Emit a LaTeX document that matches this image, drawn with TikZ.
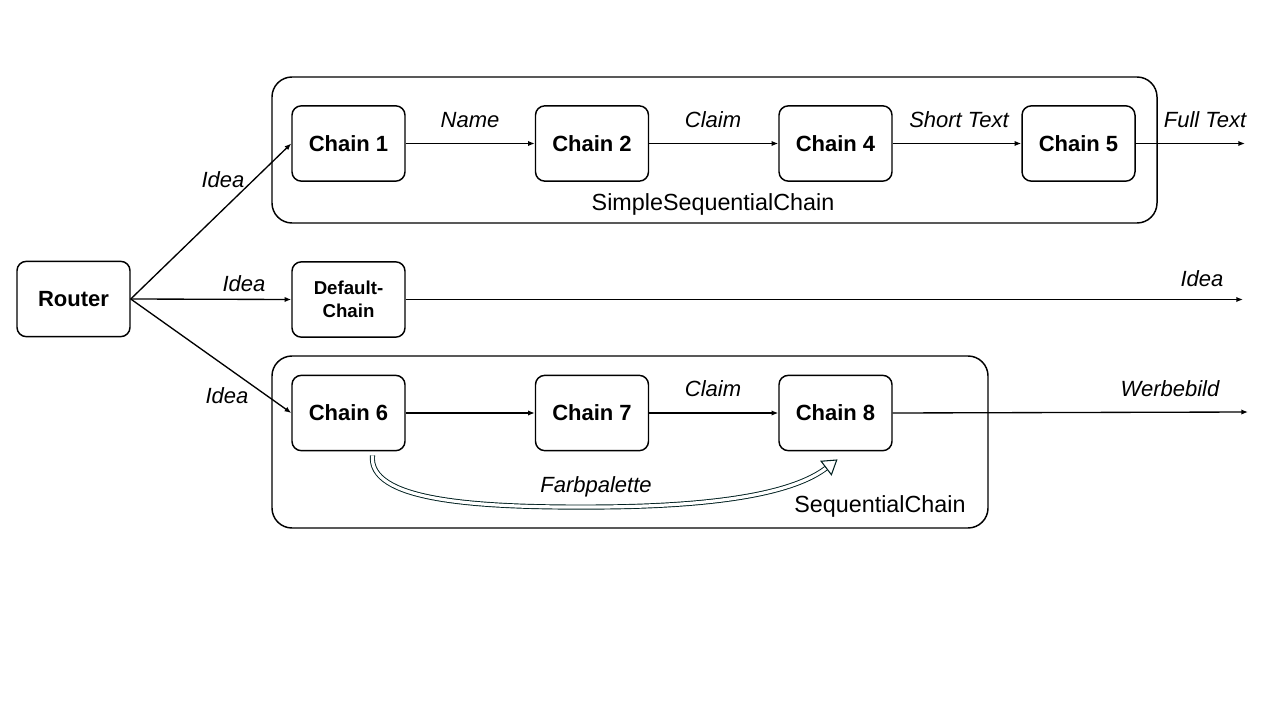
\documentclass[tikz,border=0pt]{standalone}
\usepackage{fontspec}
\setmainfont{Liberation Sans}
\usetikzlibrary{arrows.meta,positioning}
\begin{document}
\begin{tikzpicture}[x=0.75pt,y=-0.75pt,
  box/.style={draw,line width=1.1pt,rounded corners=7pt,minimum width=84.75pt,minimum height=56.5pt,font=\bfseries\fontsize{16.5}{18}\selectfont,align=center,inner sep=1pt},
  grp/.style={draw,line width=1.1pt,rounded corners=15pt},
  arr/.style={-{Latex[length=5pt,width=4pt]},line width=1pt},
  lbl/.style={font=\itshape\fontsize{16.5}{18}\selectfont,inner sep=1pt},
  glbl/.style={font=\fontsize{17.5}{19}\selectfont,inner sep=1pt}]
\useasboundingbox (0,0) rectangle (1280,720);
% groups
\draw[grp] (272,77) rectangle (1157,223);
\node[glbl] (g1) at (713,204) {SimpleSequentialChain};
\draw[grp] (272,356) rectangle (988,528);
\node[glbl] (g2) at (880,506) {SequentialChain};
% nodes
\node[box] (router) at (73.5,299) {Router};
\node[box] (c1) at (348.5,143.5) {Chain 1};
\node[box] (c2) at (592,143.5) {Chain 2};
\node[box] (c4) at (835.5,143.5) {Chain 4};
\node[box] (c5) at (1078.5,143.5) {Chain 5};
\node[box,font=\bfseries\fontsize{14}{17.5}\selectfont] (dc) at (348.5,299.5) {Default-\\Chain};
\node[box] (c6) at (348.5,413) {Chain 6};
\node[box] (c7) at (592,413) {Chain 7};
\node[box] (c8) at (835.5,413) {Chain 8};
% outputs
\coordinate (o1) at (1245,143.5);
\coordinate (o2) at (1243,299.5);
\coordinate (o3) at (1248,412);
% connectors
\draw[arr] (router.east) -- (c1.west);
\draw[arr] (router.east) -- (dc.west);
\draw[arr] (router.east) -- (c6.west);
\draw[arr] (c1) -- (c2);
\draw[arr] (c2) -- (c4);
\draw[arr] (c4) -- (c5);
\draw[arr] (c5) -- (o1);
\draw[arr] (dc) -- (o2);
\draw[arr] (c6) -- (c7);
\draw[arr] (c7) -- (c8);
\draw[arr] (c8.east) -- (o3);
% labels
\node[lbl] (lname) at (470,120) {Name};
\node[lbl] (lclaim1) at (713,120) {Claim};
\node[lbl] (lshort) at (959,120) {Short Text};
\node[lbl] (lfull) at (1205,120) {Full Text};
\node[lbl] (li1) at (223,180) {Idea};
\node[lbl] (li2) at (244,284) {Idea};
\node[lbl] (li3) at (227,396) {Idea};
\node[lbl] (li4) at (1202,279) {Idea};
\node[lbl] (lclaim2) at (713,389) {Claim};
\node[lbl] (lwerbe) at (1170,389) {Werbebild};
\node[lbl] (lfarb) at (596,487) {Farbpalette};
% curved double arrow
\coordinate (cs) at ([xshift=18pt,yshift=-3pt]c6.south);
\coordinate (ce) at ([xshift=1.5pt,yshift=-6pt]c8.south);
\draw[draw=black!75!teal,line width=0.7pt,double=white,double distance=2.4pt,
  -{Triangle[open,length=11pt,width=14pt,line width=0.8pt]}]
  (cs) .. controls (368,500) and (470,508) .. (600,507)
  .. controls (740,506) and (800,488) .. (ce);
\end{tikzpicture}
\end{document}
